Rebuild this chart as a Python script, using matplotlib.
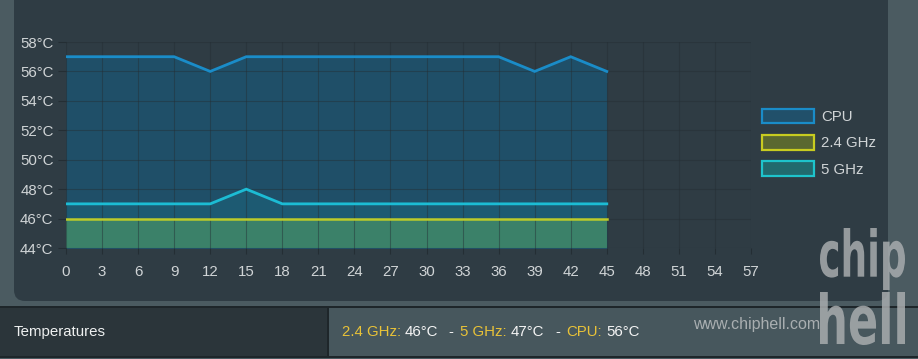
import matplotlib
matplotlib.use("Agg")
import matplotlib.pyplot as plt
from matplotlib.patches import Rectangle, FancyBboxPatch, Patch, PathPatch
from matplotlib.textpath import TextPath
from matplotlib.font_manager import FontProperties
from matplotlib.transforms import Affine2D

plt.rcParams['font.family'] = ['Liberation Sans', 'DejaVu Sans']

# data
minutes = [0, 3, 6, 9, 12, 15, 18, 21, 24, 27, 30, 33, 36, 39, 42, 45]
cpu = [57, 57, 57, 57, 56, 57, 57, 57, 57, 57, 57, 57, 57, 56, 57, 56]
ghz24 = [46, 46, 46, 46, 46, 46, 46, 46, 46, 46, 46, 46, 46, 46, 46, 46]
ghz5 = [47, 47, 47, 47, 47, 48, 47, 47, 47, 47, 47, 47, 47, 47, 47, 47]
series_names = ['CPU', '2.4 GHz', '5 GHz']
x_ticks = [0, 3, 6, 9, 12, 15, 18, 21, 24, 27, 30, 33, 36, 39, 42, 45, 48, 51, 54, 57]
y_ticks = [44, 46, 48, 50, 52, 54, 56, 58]
current = [('2.4 GHz:', '46°C'), ('5 GHz:', '47°C'), ('CPU:', '56°C')]

W, H = 918, 359
bg = '#2f3c44'
grey = '#4b5b61'
txt = '#d0d4d6'
gold = '#e8c238'
gridc = '#242e34'


def fx(px):
    return px / W


def fy(py):
    return 1 - py / H


fig = plt.figure(figsize=(W / 100, H / 100), dpi=100, facecolor=grey)

# main panel with rounded corners
panel = FancyBboxPatch((fx(14), fy(301)), fx(888 - 14), 320 / H,
                       boxstyle='round,pad=0,rounding_size=0.012',
                       transform=fig.transFigure, facecolor=bg, edgecolor='none',
                       mutation_aspect=W / H, zorder=-5)
fig.patches.append(panel)

# bottom row
def band(x0, y0, w, h, c):
    fig.patches.append(Rectangle((fx(x0), fy(y0 + h)), w / W, h / H,
                                 transform=fig.transFigure, facecolor=c,
                                 edgecolor='none', zorder=-4))


band(0, 306, W, 2, '#1e262a')
band(0, 308, 328, 48, '#2b353a')
band(328, 308, W - 328, 48, '#47575d')
band(327, 308, 1.5, 48, '#1e262a')
band(0, 356, W, 2, '#1e262a')

ax = fig.add_axes([fx(66), fy(248), fx(751 - 66), (248 - 42) / H])
ax.set_facecolor('none')
ax.set_zorder(2)

ax.fill_between(minutes, 44, cpu, color='#1f4f68', lw=0, zorder=1)
ax.fill_between(minutes, 44, ghz5, color='#1d5a72', lw=0, zorder=1)
ax.fill_between(minutes, 44, ghz24, color='#3b8169', lw=0, zorder=1)

ax.plot(minutes, cpu, color='#1a8cc8', lw=2.0, solid_capstyle='projecting',
        solid_joinstyle='miter', zorder=4)
ax.plot(minutes, ghz5, color='#1cbcd4', lw=2.0, solid_capstyle='projecting',
        solid_joinstyle='miter', zorder=4)
ax.plot(minutes, ghz24, color='#bccb2a', lw=1.8, solid_capstyle='projecting', zorder=4)

ax.set_xlim(0, 57)
ax.set_ylim(44, 58)
ax.set_xticks(x_ticks)
ax.set_yticks(y_ticks)
ax.set_yticklabels([f'{v}°C' for v in y_ticks])
ax.grid(True, color=gridc, lw=0.8, alpha=0.45, zorder=2)
ax.set_axisbelow(False)
for s in ax.spines.values():
    s.set_visible(False)
ax.tick_params(axis='both', colors=gridc, labelcolor=txt, labelsize=10.8, width=0.8)
ax.tick_params(axis='y', length=6, pad=3)
ax.tick_params(axis='x', length=4, pad=8)

handles = [
    Patch(facecolor='#21506a', edgecolor='#1a8cc8', lw=1.6),
    Patch(facecolor='#5a6830', edgecolor='#c8cc20', lw=1.6),
    Patch(facecolor='#216a6e', edgecolor='#1ec4cc', lw=1.6),
]
leg = fig.legend(handles, series_names, loc='upper left',
                 bbox_to_anchor=(fx(762), fy(109)), frameon=False,
                 borderpad=0, borderaxespad=0, fontsize=10.8,
                 handlelength=3.45, handleheight=1.1, labelspacing=0.72,
                 handletextpad=0.5, labelcolor=txt)

# bottom row texts
fig.text(fx(14), fy(332), 'Temperatures', color='#eef0f0', fontsize=10.8, va='center')
xpos = [(342, 405), (460, 511), (566, 606)]
dashes = [448, 555]
for (lab, val), (xl, xv) in zip(current, xpos):
    fig.text(fx(xl), fy(332), lab, color=gold, fontsize=10.8, va='center')
    fig.text(fx(xv), fy(332), val, color='#f4f4f4', fontsize=10.8, va='center')
for xd in dashes:
    fig.text(fx(xd), fy(332), '-', color='#f4f4f4', fontsize=10.8, va='center')

# watermark
fig.text(fx(693), fy(324), 'www.chiphell.com', color='#b4b8ba', fontsize=11.5,
         va='center', alpha=0.9)
fp = FontProperties(family='DejaVu Sans', weight='bold')
pix = Affine2D().scale(1 / W, 1 / H) + fig.transFigure
for word, top, bottom in [('chip', 228, 290), ('hell', 292, 345)]:
    tp = TextPath((0, 0), word, size=40, prop=fp)
    ext = tp.get_extents()
    sx = 85 / ext.width
    sy = (bottom - top) / ext.height
    tr = Affine2D().translate(-ext.x0, -ext.y0).scale(sx, sy).translate(820, H - bottom)
    fig.patches.append(PathPatch(tr.transform_path(tp), transform=pix,
                                 facecolor='#a8acae', edgecolor='none', alpha=0.85))

fig.savefig('out.png', dpi=100, facecolor=grey)
